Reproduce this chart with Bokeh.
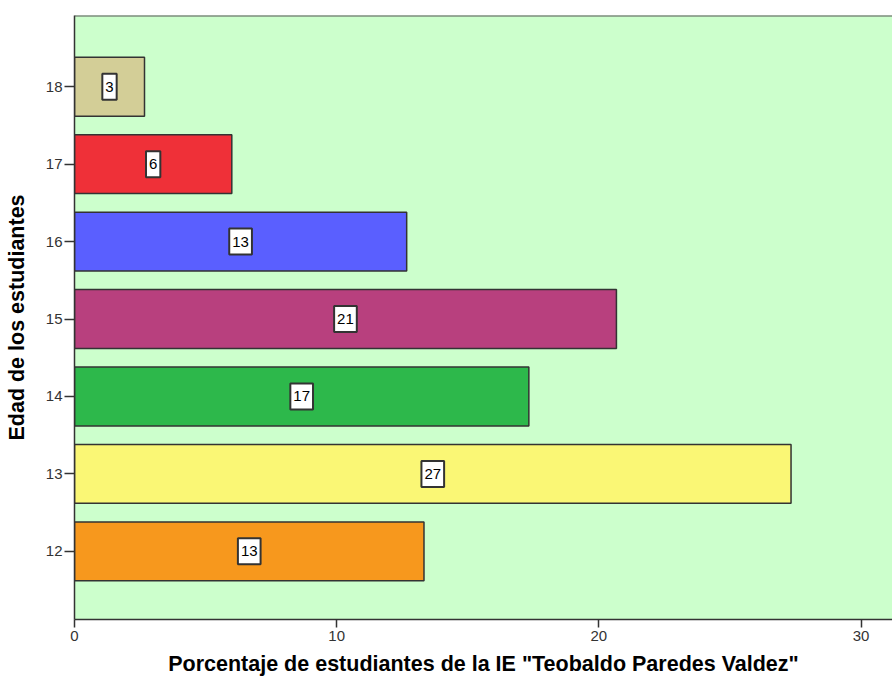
from bokeh.plotting import figure
from bokeh.models import ColumnDataSource, Range1d, FixedTicker, Span
from bokeh.core.properties import value
from bokeh.embed import file_html
from bokeh.resources import INLINE

ages = [12, 13, 14, 15, 16, 17, 18]
percent = [13.33, 27.33, 17.33, 20.67, 12.67, 6.0, 2.67]
labels = ["13", "27", "17", "21", "13", "6", "3"]
colors = ["#F7981D", "#FAF775", "#2DB84B", "#B8407E", "#5A5FFF", "#EF3038", "#D3CE97"]
x_ticks = [0, 10, 20, 30]

src = ColumnDataSource(dict(
    age=ages, pct=percent, lab=labels, col=colors,
    mid=[v / 2 for v in percent],
))

p = figure(output_backend="svg", toolbar_location=None,
           frame_width=818, frame_height=604,
           x_range=Range1d(0, 31.2), y_range=Range1d(11.12, 18.92),
           min_border_left=74, min_border_top=15, min_border_right=0,
           min_border_bottom=62)
p.background_fill_color = "#CCFFCC"
p.border_fill_color = "white"
p.outline_line_color = None
p.xgrid.visible = False
p.ygrid.visible = False

p.hbar(y="age", right="pct", left=0, height=0.76, fill_color="col",
       line_color="#333333", line_width=1.5, source=src)

p.text(x="mid", y="age", text="lab", source=src,
       text_align="center", text_baseline="middle",
       text_font=value("Liberation Sans"), text_font_size="15px", text_color="black",
       background_fill_color="white", border_line_color="#333333",
       border_line_width=2, padding=dict(left=3, right=3, top=8, bottom=8))

p.add_layout(Span(location=18.92, dimension="width", line_color="#555555", line_width=2))

for ax in (p.xaxis[0], p.yaxis[0]):
    ax.axis_line_color = "#333333"
    ax.axis_line_width = 1.5
    ax.major_tick_line_color = "#333333"
    ax.major_tick_line_width = 1.5
    ax.major_tick_in = 0
    ax.minor_tick_line_color = None
    ax.major_label_text_font = "Liberation Sans"
    ax.major_label_text_font_size = "15px"
    ax.major_label_text_color = "#333333"
    ax.axis_label_text_font = "Liberation Sans"
    ax.axis_label_text_font_size = "21.5px"
    ax.axis_label_text_font_style = "bold"
    ax.axis_label_text_color = "black"

p.xaxis.ticker = FixedTicker(ticks=x_ticks)
p.yaxis.ticker = FixedTicker(ticks=ages)
p.xaxis.major_tick_out = 8
p.yaxis.major_tick_out = 10
p.xaxis.axis_label = 'Porcentaje de estudiantes de la IE "Teobaldo Paredes Valdez"'
p.yaxis.axis_label = "Edad de los estudiantes"
p.xaxis.axis_label_standoff = 8
p.yaxis.axis_label_standoff = 14
p.xaxis.major_label_standoff = 3
p.yaxis.major_label_standoff = 2

open("out.html", "w").write(file_html(p, INLINE))
